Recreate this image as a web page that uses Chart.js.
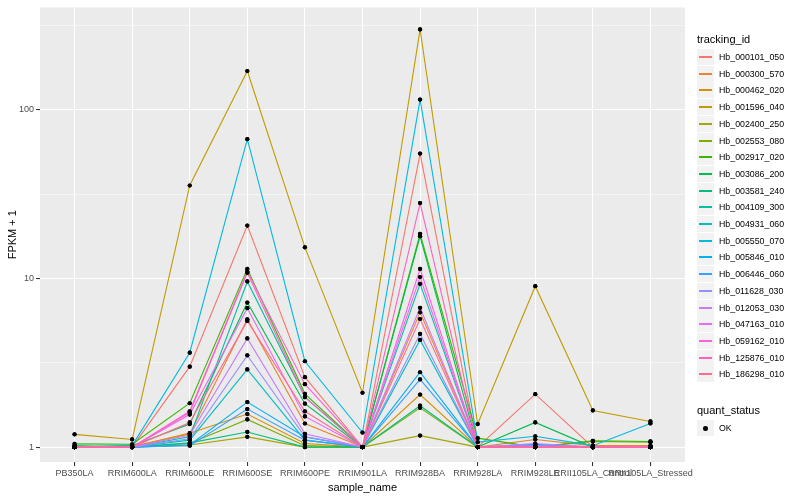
<!DOCTYPE html>
<html><head><meta charset="utf-8">
<script src="https://cdn.jsdelivr.net/npm/chart.js@4.4.1/dist/chart.umd.min.js"></script>
<style>
html,body{margin:0;padding:0;background:#fff;}
#wrap{position:relative;width:800px;height:500px;font-family:"Liberation Sans",Arial,sans-serif;overflow:hidden;}
#c{position:absolute;left:0;top:0;}
.lt{position:absolute;font-size:11px;color:#000;white-space:nowrap;line-height:13px;}
.key{position:absolute;width:17px;height:16px;background:#F2F2F2;}
.ln{position:absolute;left:2px;width:13px;top:7px;height:2px;}
.dot{position:absolute;left:6px;top:6px;width:4.5px;height:4.5px;border-radius:50%;background:#000;}
.lab{position:absolute;font-size:8.8px;color:#000;white-space:nowrap;line-height:10px;}
</style>
</head><body>
<div id="wrap"><canvas id="c" width="800" height="500"></canvas><div id="legend"></div></div>
<script>
const categories = ['PB350LA','RRIM600LA','RRIM600LE','RRIM600SE','RRIM600PE','RRIM901LA','RRIM928BA','RRIM928LA','RRIM928LE','RRII105LA_Control','RRII105LA_Stressed'];

const trackingIds = ['Hb_000101_050','Hb_000300_570','Hb_000462_020','Hb_001596_040','Hb_002400_250','Hb_002553_080','Hb_002917_020','Hb_003086_200','Hb_003581_240','Hb_004109_300','Hb_004931_060','Hb_005550_070','Hb_005846_010','Hb_006446_060','Hb_011628_030','Hb_012053_030','Hb_047163_010','Hb_059162_010','Hb_125876_010','Hb_186298_010'];

const seriesColors = ['#F8766D','#EA8331','#D89000','#C09B00','#A3A500','#7CAE00','#39B600','#00BB4E','#00BF7D','#00C1A3','#00BFC4','#00BAE0','#00B0F6','#35A2FF','#9590FF','#C77CFF','#E76BF3','#FA62DB','#FF62BC','#FF6C91'];

// FPKM + 1 values, one array per tracking_id, in category order
const s000101_050 = [1.0, 1.0, 3.0, 20.6, 2.6, 1.0, 55, 1.0, 2.06, 1.0, 1.0];
const s000300_570 = [1.0, 1.01, 1.2, 5.73, 1.38, 1.0, 6.3, 1.0, 1.11, 1.02, 1.02];
const s000462_020 = [1.0, 1.0, 1.21, 1.57, 1.05, 1.0, 2.05, 1.0, 1.03, 1.0, 1.0];
const s001596_040 = [1.19, 1.11, 35.6, 170, 15.3, 2.1, 300, 1.37, 9.0, 1.65, 1.42];
const s002400_250 = [1.0, 1.0, 1.03, 1.15, 1.0, 1.0, 1.17, 1.0, 1.0, 1.0, 1.0];
const s002553_080 = [1.0, 1.0, 1.05, 1.46, 1.02, 1.0, 1.71, 1.0, 1.0, 1.08, 1.07];
const s002917_020 = [1.045, 1.04, 1.82, 11.4, 2.07, 1.0, 18.4, 1.13, 1.0, 1.09, 1.08];
const s003086_200 = [1.0, 1.02, 1.37, 7.2, 1.81, 1.0, 17.8, 1.0, 1.40, 1.0, 1.0];
const s003581_240 = [1.02, 1.0, 1.06, 1.23, 1.0, 1.0, 1.76, 1.0, 1.0, 1.0, 1.0];
const s004109_300 = [1.0, 1.0, 1.15, 9.6, 1.98, 1.0, 9.3, 1.0, 1.0, 1.0, 1.0];
const s004931_060 = [1.0, 1.0, 1.1, 2.89, 1.1, 1.0, 4.32, 1.0, 1.0, 1.0, 1.0];
const s005550_070 = [1.0, 1.02, 3.63, 67, 3.23, 1.22, 115, 1.07, 1.16, 1.02, 1.38];
const s005846_010 = [1.0, 1.0, 1.03, 1.85, 1.15, 1.0, 2.78, 1.0, 1.04, 1.0, 1.0];
const s006446_060 = [1.0, 1.0, 1.02, 1.68, 1.1, 1.0, 2.52, 1.0, 1.02, 1.0, 1.0];
const s011628_030 = [1.0, 1.0, 1.12, 3.5, 1.15, 1.0, 4.69, 1.0, 1.02, 1.0, 1.0];
const s012053_030 = [1.0, 1.0, 1.18, 4.41, 1.2, 1.0, 6.7, 1.0, 1.05, 1.0, 1.0];
const s047163_010 = [1.0, 1.0, 1.56, 6.67, 1.52, 1.0, 10.2, 1.0, 1.0, 1.0, 1.0];
const s059162_010 = [1.0, 1.0, 1.63, 11.0, 2.36, 1.0, 11.4, 1.0, 1.0, 1.0, 1.0];
const s125876_010 = [1.0, 1.0, 1.6, 10.8, 1.98, 1.0, 28, 1.0, 1.0, 1.0, 1.0];
const s186298_010 = [1.0, 1.0, 1.4, 5.6, 1.63, 1.0, 5.75, 1.0, 1.0, 1.0, 1.0];

const seriesValues = [s000101_050,s000300_570,s000462_020,s001596_040,s002400_250,s002553_080,s002917_020,s003086_200,s003581_240,s004109_300,s004931_060,s005550_070,s005846_010,s006446_060,s011628_030,s012053_030,s047163_010,s059162_010,s125876_010,s186298_010];

const yMajorTicks = [1, 10, 100];
const yMinorBreaks = [3.1623, 31.623, 316.23];
const yTickLabels = ['1', '10', '100'];

const legendTitle = 'tracking_id';
const statusTitle = 'quant_status';
const statusLabels = ['OK'];

const N = trackingIds.length;
const datasets = seriesValues.map((vals, i) => ({
  label: trackingIds[i],
  data: vals.map((v, j) => ({x: j, y: v})),
  borderColor: seriesColors[i],
  backgroundColor: seriesColors[i],
  borderWidth: 1.1,
  pointRadius: 2.1,
  pointBackgroundColor: '#000',
  pointBorderColor: '#000',
  pointBorderWidth: 0,
  pointHoverRadius: 2.1,
  tension: 0,
  fill: false,
  order: N - i
}));

const panelBg = {
  id: 'panelBg',
  beforeDraw(chart) {
    const {ctx, chartArea: a} = chart;
    ctx.save();
    ctx.fillStyle = '#EBEBEB';
    ctx.fillRect(a.left, a.top, a.right - a.left, a.bottom - a.top);
    ctx.restore();
  },
  afterDatasetsDraw(chart) {
    const ctx = chart.ctx, a = chart.chartArea;
    ctx.save();
    ctx.beginPath();
    ctx.rect(a.left, a.top, a.right - a.left, a.bottom - a.top);
    ctx.clip();
    chart.data.datasets.forEach((d, i) => {
      chart.getDatasetMeta(i).data.forEach(p => p.draw(ctx));
    });
    ctx.restore();
  }
};

const isMajor = v => yMajorTicks.some(m => Math.abs(m - v) < 1e-6);

new Chart(document.getElementById('c'), {
  type: 'line',
  data: {datasets},
  plugins: [panelBg],
  options: {
    responsive: false,
    animation: false,
    devicePixelRatio: 1,
    layout: {padding: {top: 5, right: 115, left: 0, bottom: 0}},
    plugins: {legend: {display: false}, tooltip: {enabled: false}},
    scales: {
      x: {
        type: 'linear',
        min: -0.6,
        max: categories.length - 0.4,
        afterBuildTicks(scale) { scale.ticks = categories.map((c, i) => ({value: i})); },
        afterFit(scale) { scale.height = 38; },
        ticks: {
          autoSkip: false, maxRotation: 0, minRotation: 0, padding: 2,
          color: '#4D4D4D', font: {family: 'Liberation Sans', size: 9},
          callback: (v) => categories[v]
        },
        grid: {color: '#FFFFFF', lineWidth: 1.07, tickColor: '#333333', tickLength: 4, drawTicks: true},
        border: {display: false},
        title: {display: true, text: 'sample_name', color: '#000', font: {family: 'Liberation Sans', size: 11}, padding: {top: 0, bottom: 5}}
      },
      y: {
        type: 'logarithmic',
        min: 0.816,
        max: 405,
        afterBuildTicks(scale) {
          scale.ticks = yMajorTicks.concat(yMinorBreaks).sort((a, b) => a - b).map(v => ({value: v}));
        },
        afterFit(scale) { scale.width = 40; },
        ticks: {
          padding: 2, color: '#4D4D4D', font: {family: 'Liberation Sans', size: 9},
          callback: (v) => { const k = yMajorTicks.findIndex(m => Math.abs(m - v) < 1e-6); return k >= 0 ? yTickLabels[k] : ''; }
        },
        grid: {
          color: '#FFFFFF',
          lineWidth: (ctx) => (ctx.tick && isMajor(ctx.tick.value)) ? 1.07 : 0.53,
          tickColor: (ctx) => (ctx.tick && isMajor(ctx.tick.value)) ? '#333333' : 'rgba(0,0,0,0)',
          tickLength: 4
        },
        border: {display: false},
        title: {display: true, text: 'FPKM + 1', color: '#000', font: {family: 'Liberation Sans', size: 11}, padding: {top: 6, bottom: 0}}
      }
    }
  }
});

// legend (HTML, built from the arrays)
const lg = document.getElementById('legend');
function add(cls, x, y, text) {
  const e = document.createElement('div');
  e.className = cls; e.style.left = x + 'px'; e.style.top = y + 'px';
  if (text !== undefined) e.textContent = text;
  lg.appendChild(e); return e;
}
add('lt', 697, 33, legendTitle);
const step = 16.7, y0 = 49;
trackingIds.forEach((id, i) => {
  const y = Math.round(y0 + i * step);
  const k = add('key', 697, y);
  const l = document.createElement('div'); l.className = 'ln'; l.style.background = seriesColors[i]; k.appendChild(l);
  add('lab', 719, y + 3, id);
});
add('lt', 697, 404, statusTitle);
statusLabels.forEach((s, i) => {
  const y = Math.round(420 + i * step);
  const k = add('key', 697, y);
  const d = document.createElement('div'); d.className = 'dot'; k.appendChild(d);
  add('lab', 719, y + 3, s);
});
</script>
</body></html>
